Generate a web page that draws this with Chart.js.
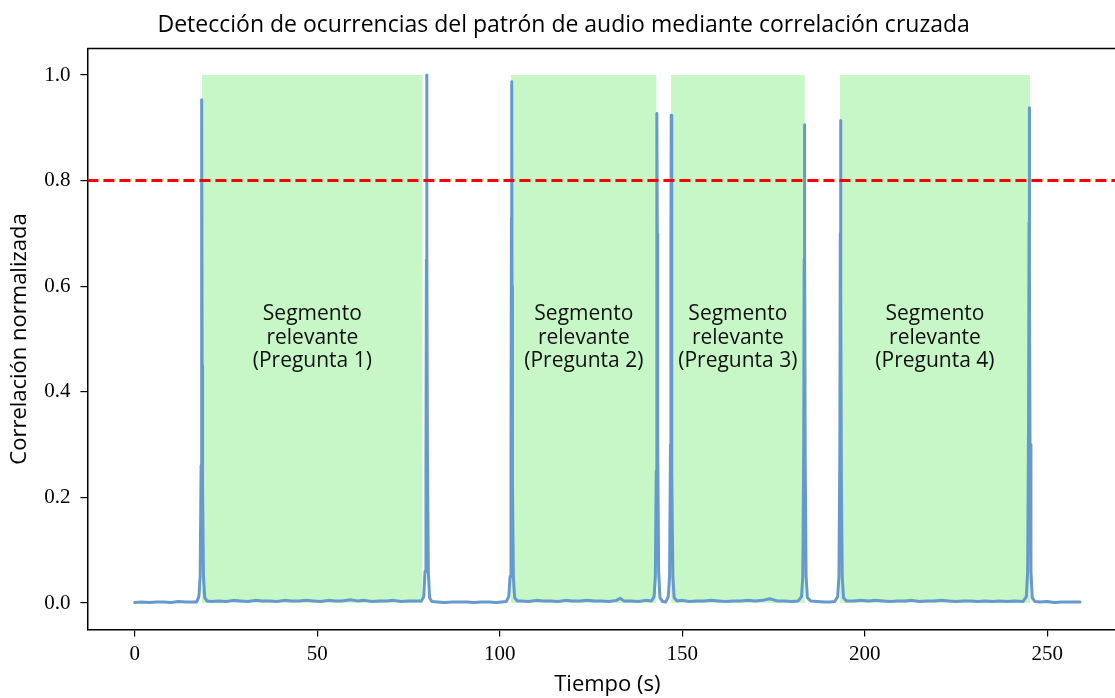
<!DOCTYPE html>
<html>
<head>
<meta charset="utf-8">
<script src="https://cdn.jsdelivr.net/npm/chart.js@4.4.0/dist/chart.umd.min.js"></script>
<style>
html, body { margin: 0; padding: 0; background: #fff; overflow: hidden; }
#wrap { width: 1215px; height: 698px; }
</style>
</head>
<body>
<div id="wrap"><canvas id="chart" width="1215" height="698"></canvas></div>
<script>
// tiempo (s) y correlación normalizada
const tiempo = [
  0, 2, 4, 6, 8, 10, 12, 14, 16, 17.0,
  17.6, 17.95, 18.2, 18.32, 18.4, 18.48, 18.6, 18.85, 19.2,
  19.8, 21, 23, 25, 27, 29, 31, 33, 35, 37, 39, 41, 43, 45, 47, 49, 51, 53, 55, 57, 59, 61, 63, 65, 67, 69, 71, 73, 75, 77, 78.6,
  79.2, 79.55, 79.8, 79.92, 80.0, 80.08, 80.2, 80.45, 80.8,
  81.4, 83, 85, 87, 89, 91, 93, 95, 97, 99, 100.5, 101.8,
  102.5, 102.85, 103.1, 103.22, 103.3, 103.38, 103.5, 103.75, 104.1,
  104.8, 106, 108, 110, 112, 114, 116, 118, 120, 122, 124, 126, 128, 130, 132, 133, 134, 136, 138, 140, 141.6,
  142.3, 142.65, 142.9, 143.02, 143.1, 143.18, 143.3, 143.55, 143.9,
  144.6, 145.5,
  146.2, 146.55, 146.8, 146.92, 147.0, 147.08, 147.2, 147.45, 147.8,
  148.6, 150, 152, 154, 156, 158, 160, 162, 164, 166, 168, 170, 172, 174, 176, 178, 180, 181.8,
  182.7, 183.05, 183.3, 183.42, 183.5, 183.58, 183.7, 183.95, 184.3,
  185.2, 187, 189, 190.5, 191.8,
  192.6, 192.95, 193.2, 193.32, 193.4, 193.48, 193.6, 193.85, 194.2,
  195, 197, 199, 201, 203, 205, 207, 209, 211, 213, 215, 217, 219, 221, 223, 225, 227, 229, 231, 233, 235, 237, 239, 241, 243.4,
  244.3, 244.65, 244.9, 245.02, 245.1, 245.18, 245.3, 245.55, 245.9,
  246.6, 248, 250, 252, 254, 256, 258, 259
];
const correlacion = [
  0.001, 0.002, 0.001, 0.002, 0.002, 0.001, 0.003, 0.002, 0.002, 0.002,
  0.012, 0.05, 0.26, 0.7, 0.953, 0.45, 0.22, 0.05, 0.01,
  0.004, 0.003, 0.004, 0.003, 0.005, 0.004, 0.003, 0.005, 0.004, 0.004, 0.003, 0.005, 0.004, 0.004, 0.005, 0.004, 0.003, 0.005, 0.004, 0.004, 0.006, 0.004, 0.005, 0.003, 0.004, 0.004, 0.005, 0.003, 0.004, 0.004, 0.004,
  0.012, 0.06, 0.25, 0.65, 1.0, 0.7, 0.3, 0.06, 0.01,
  0.003, 0.002, 0.001, 0.002, 0.002, 0.002, 0.001, 0.002, 0.002, 0.001, 0.002, 0.003,
  0.012, 0.05, 0.3, 0.73, 0.987, 0.6, 0.22, 0.05, 0.01,
  0.004, 0.004, 0.003, 0.005, 0.004, 0.004, 0.003, 0.005, 0.004, 0.004, 0.005, 0.004, 0.004, 0.003, 0.005, 0.009, 0.004, 0.004, 0.003, 0.005, 0.004,
  0.012, 0.05, 0.25, 0.6, 0.927, 0.7, 0.3, 0.06, 0.01,
  0.003, 0.002,
  0.012, 0.05, 0.3, 0.7, 0.924, 0.65, 0.25, 0.05, 0.01,
  0.004, 0.005, 0.003, 0.004, 0.004, 0.005, 0.004, 0.003, 0.004, 0.004, 0.005, 0.004, 0.005, 0.008, 0.004, 0.004, 0.003, 0.004,
  0.012, 0.05, 0.3, 0.65, 0.906, 0.7, 0.28, 0.05, 0.01,
  0.004, 0.003, 0.002, 0.002, 0.003,
  0.012, 0.05, 0.3, 0.7, 0.914, 0.6, 0.25, 0.05, 0.01,
  0.004, 0.004, 0.005, 0.004, 0.005, 0.004, 0.003, 0.004, 0.004, 0.005, 0.003, 0.004, 0.004, 0.005, 0.004, 0.003, 0.004, 0.004, 0.003, 0.004, 0.003, 0.004, 0.003, 0.004, 0.003,
  0.012, 0.06, 0.35, 0.72, 0.938, 0.62, 0.3, 0.06, 0.01,
  0.003, 0.002, 0.003, 0.001, 0.002, 0.002, 0.002, 0.002
];

// segmentos relevantes (inicio, fin en s)
const segInicio = [18.44, 103.1, 146.9, 193.2];
const segFin = [78.9, 143.0, 183.6, 245.3];
const segEtiquetas = ["(Pregunta 1)", "(Pregunta 2)", "(Pregunta 3)", "(Pregunta 4)"];
const segAltura = 1.0;

const umbral = 0.8;
const xLim = [-12.95, 271.95];
const yLim = [-0.05, 1.05];
const xTicks = [0, 50, 100, 150, 200, 250];
const yTicks = [0.0, 0.2, 0.4, 0.6, 0.8, 1.0];

const SANS = "'Open Sans', sans-serif";
const SERIF = "'Liberation Serif', serif";

const serie = tiempo.map((t, i) => ({x: t, y: correlacion[i]}));

const spanSets = segInicio.map((s, i) => ({
  label: "seg" + (i + 1),
  data: [{x: s, y: segAltura}, {x: segFin[i], y: segAltura}],
  borderColor: "rgba(0,0,0,0)",
  borderWidth: 0,
  pointRadius: 0,
  backgroundColor: "rgba(144,238,144,0.5)",
  fill: "origin",
  order: 3
}));

// marco superior/derecho como en matplotlib
const frame = {
  id: "frame",
  afterDraw(chart){
    const {ctx, chartArea:a} = chart;
    ctx.save();
    ctx.strokeStyle = "#000";
    ctx.lineWidth = 1.5;
    ctx.beginPath();
    ctx.moveTo(a.left, a.top);
    ctx.lineTo(a.right, a.top);
    ctx.lineTo(a.right, a.bottom);
    ctx.stroke();
    ctx.restore();
  }
};

// etiquetas dentro de cada segmento
const segLabels = {
  id: "segLabels",
  afterDatasetsDraw(chart){
    const {ctx, scales} = chart;
    ctx.save();
    ctx.fillStyle = "#111";
    ctx.font = "21px " + SANS;
    ctx.textAlign = "center";
    ctx.textBaseline = "middle";
    segInicio.forEach((s, i) => {
      const cx = scales.x.getPixelForValue((s + segFin[i]) / 2);
      const cy = scales.y.getPixelForValue(0.5);
      const lines = ["Segmento", "relevante", segEtiquetas[i]];
      lines.forEach((txt, j) => ctx.fillText(txt, cx, cy - 1 + (j - 1) * 23.5));
    });
    ctx.restore();
  }
};

new Chart(document.getElementById("chart"), {
  type: "line",
  data: {
    datasets: [
      {
        label: "umbral",
        data: [{x: xLim[0], y: umbral}, {x: xLim[1], y: umbral}],
        borderColor: "#ff0000",
        borderWidth: 3,
        borderDash: [11, 5],
        pointRadius: 0,
        fill: false,
        order: 0
      },
      {
        label: "correlación",
        data: serie,
        borderColor: "#6699cc",
        borderWidth: 3,
        borderJoinStyle: "round",
        borderCapStyle: "round",
        pointRadius: 0,
        tension: 0,
        fill: false,
        order: 1
      },
      ...spanSets
    ]
  },
  options: {
    responsive: false,
    animation: false,
    layout: { padding: { left: 0, right: 87.7, top: 0, bottom: 0 } },
    plugins: {
      legend: { display: false },
      tooltip: { enabled: false },
      title: {
        display: true,
        text: "Detección de ocurrencias del patrón de audio mediante correlación cruzada",
        color: "#000",
        font: { family: SANS, size: 23, weight: "normal" },
        padding: { top: 11.5, bottom: 9.5 }
      }
    },
    scales: {
      x: {
        type: "linear",
        min: xLim[0],
        max: xLim[1],
        afterBuildTicks: s => { s.ticks = xTicks.map(v => ({value: v})); },
        afterFit: s => { s.height = 68.6; },
        ticks: {
          color: "#000",
          font: { family: SERIF, size: 21 },
          padding: 5,
          autoSkip: false,
          maxRotation: 0,
          callback: v => String(v)
        },
        grid: { drawOnChartArea: false, drawTicks: true, tickLength: 7, color: "#000", lineWidth: 1.2 },
        border: { display: true, color: "#000", width: 1.5 },
        title: {
          display: true,
          text: "Tiempo (s)",
          color: "#000",
          font: { family: SANS, size: 22 },
          padding: { top: 2, bottom: 0 }
        }
      },
      y: {
        min: yLim[0],
        max: yLim[1],
        afterBuildTicks: s => { s.ticks = yTicks.map(v => ({value: v})); },
        afterFit: s => { s.width = 87.4; },
        ticks: {
          color: "#000",
          font: { family: SERIF, size: 21 },
          padding: 10,
          callback: v => Number(v).toFixed(1)
        },
        grid: { drawOnChartArea: false, drawTicks: true, tickLength: 7, color: "#000", lineWidth: 1.2 },
        border: { display: true, color: "#000", width: 1.5 },
        title: {
          display: true,
          text: "Correlación normalizada",
          color: "#000",
          font: { family: SANS, size: 22 },
          padding: { top: 7, bottom: 0 }
        }
      }
    }
  },
  plugins: [frame, segLabels]
});
</script>
</body>
</html>
